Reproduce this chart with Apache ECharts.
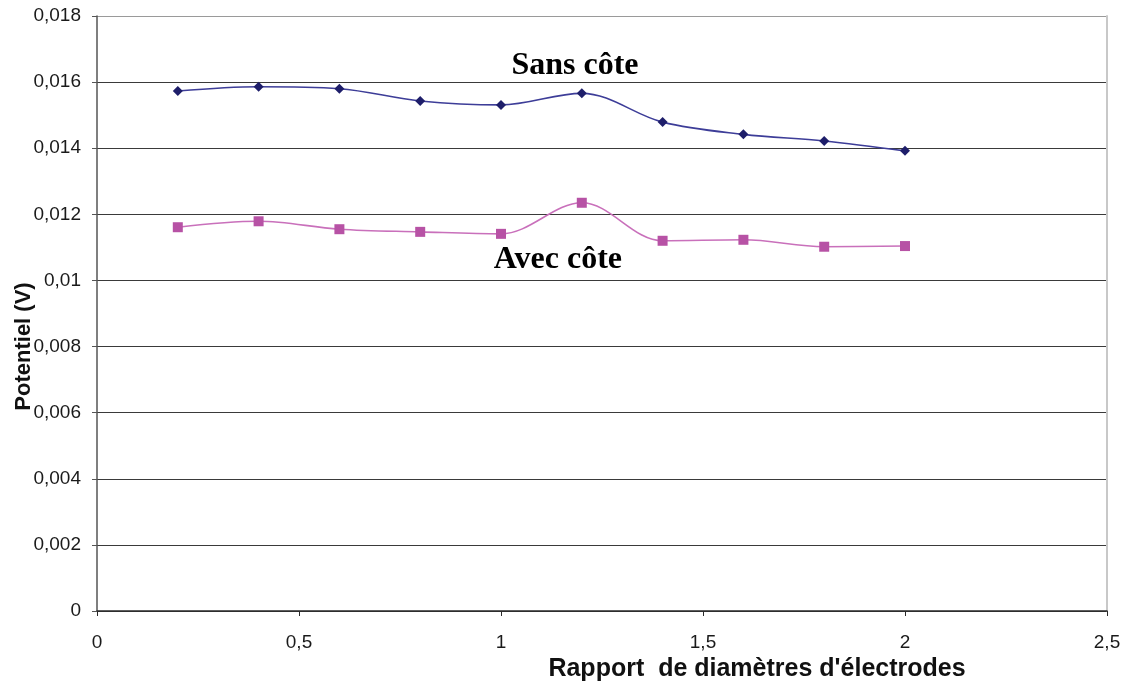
<!DOCTYPE html>
<html>
<head>
<meta charset="utf-8">
<script src="https://cdn.jsdelivr.net/npm/echarts@6/dist/echarts.min.js"></script>
<style>
  html, body { margin: 0; padding: 0; background: #fff; }
  #chart { width: 1124px; height: 685px; }
</style>
</head>
<body>
<div id="chart"></div>
<script>
// Rapport de diamètres (x) and potential in volts for both configurations
const ratios = [0.2, 0.4, 0.6, 0.8, 1.0, 1.2, 1.4, 1.6, 1.8, 2.0];
const sansCote = [0.01573, 0.01586, 0.01580, 0.01543, 0.01531, 0.01566, 0.01479, 0.01442, 0.01422, 0.01392];
const avecCote = [0.01161, 0.01179, 0.01155, 0.01147, 0.01141, 0.01235, 0.01120, 0.01123, 0.01102, 0.01104];

const xTickLabels = ['0', '0,5', '1', '1,5', '2', '2,5'];
const yTickLabels = ['0', '0,002', '0,004', '0,006', '0,008', '0,01', '0,012', '0,014', '0,016', '0,018'];

const X_STEP = 0.5, Y_STEP = 0.002;

const pairs = (xs, ys) => xs.map((x, i) => [x, ys[i]]);

const chart = echarts.init(document.getElementById('chart'), null, { renderer: 'canvas' });

const tickFont = { fontFamily: 'Liberation Sans, Arial, sans-serif', fontSize: 19, color: '#1a1a1a' };
const annotFont = { fontFamily: 'Liberation Serif, Times New Roman, serif', fontWeight: 'bold', fontSize: 32, color: '#000' };

// horizontal grid lines: dark, except the top one which reads as the frame
const gridColors = yTickLabels.map((_, i) => i === yTickLabels.length - 1 ? '#9a9a9a' : '#3a3a3a');

// text-only annotation placed in data coordinates
const annotation = (text, coord) => ({
  symbol: 'circle',
  symbolSize: 1,
  itemStyle: { color: 'rgba(0,0,0,0)' },
  label: { show: true, position: 'inside', ...annotFont, formatter: text },
  data: [{ coord }]
});

chart.setOption({
  animation: false,
  backgroundColor: '#fff',
  grid: { left: 97, right: 17, top: 16, bottom: 74, containLabel: false, outerBoundsMode: 'none' },
  xAxis: {
    type: 'value',
    min: 0, max: 2.5, interval: X_STEP,
    name: 'Rapport  de diamètres d\'électrodes',
    nameLocation: 'middle',
    nameGap: 43,
    nameTextStyle: { fontFamily: 'Liberation Sans, Arial, sans-serif', fontWeight: 'bold', fontSize: 25, color: '#111', padding: [0, 0, 0, 310] },
    axisLine: { show: true, onZero: false, lineStyle: { color: '#2a2a2a', width: 1.5 } },
    axisTick: { show: true, inside: false, length: 5, lineStyle: { color: '#2a2a2a' } },
    axisLabel: {
      ...tickFont, margin: 22,
      formatter: v => xTickLabels[Math.round(v / X_STEP)] ?? ''
    },
    splitLine: { show: false }
  },
  yAxis: [{
    type: 'value',
    min: 0, max: 0.018, interval: Y_STEP,
    name: 'Potentiel (V)',
    nameLocation: 'middle',
    nameGap: 62,
    nameRotate: 90,
    nameMoveOverlap: false,
    nameTextStyle: { fontFamily: 'Liberation Sans, Arial, sans-serif', fontWeight: 'bold', fontSize: 22, color: '#111', padding: [0, 66, 0, 0] },
    axisLine: { show: true, onZero: false, lineStyle: { color: '#555', width: 1.5 } },
    axisTick: { show: true, inside: false, length: 5, lineStyle: { color: '#555' } },
    axisLabel: {
      ...tickFont, margin: 16,
      formatter: v => yTickLabels[Math.round(v / Y_STEP)] ?? ''
    },
    splitLine: { show: true, lineStyle: { color: gridColors, width: 1 } }
  }, {
    // right-hand frame of the plot area
    type: 'value',
    position: 'right',
    min: 0, max: 0.018, interval: Y_STEP,
    axisLine: { show: true, onZero: false, lineStyle: { color: '#c8c8c8', width: 2 } },
    axisTick: { show: false },
    axisLabel: { show: false },
    splitLine: { show: false }
  }],
  series: [{
    name: 'Sans côte',
    type: 'line',
    data: pairs(ratios, sansCote),
    smooth: 0.35,
    symbol: 'diamond',
    symbolSize: 10,
    lineStyle: { color: '#3d3d98', width: 1.6 },
    itemStyle: { color: '#1e1e6a' },
    z: 3,
    markPoint: annotation('Sans côte', [1.183, 0.01650])
  }, {
    name: 'Avec côte',
    type: 'line',
    data: pairs(ratios, avecCote),
    smooth: 0.35,
    symbol: 'rect',
    symbolSize: 10,
    lineStyle: { color: '#c970bb', width: 1.6 },
    itemStyle: { color: '#b752a5' },
    z: 3,
    markPoint: annotation('Avec côte', [1.141, 0.01064])
  }]
});
</script>
</body>
</html>
